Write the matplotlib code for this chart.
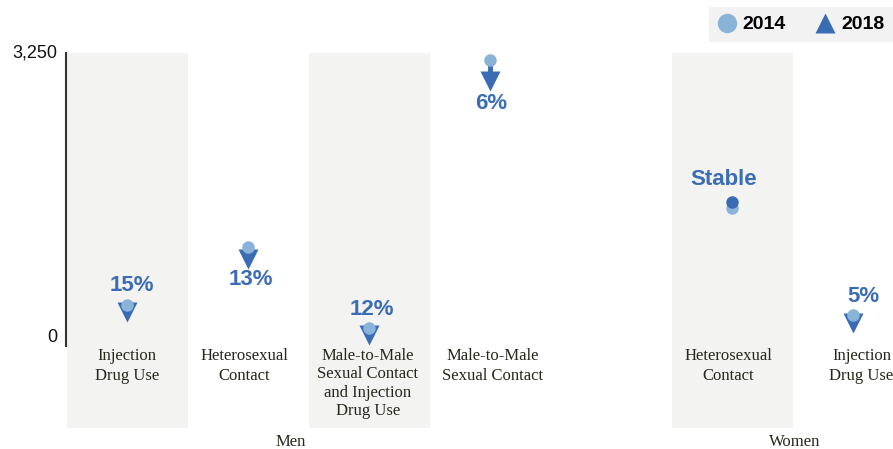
import matplotlib
matplotlib.use("Agg")
import matplotlib.pyplot as plt
from matplotlib.lines import Line2D

# ---- data ----
categories = ["Injection\nDrug Use", "Heterosexual\nContact",
              "Male-to-Male\nSexual Contact\nand Injection\nDrug Use",
              "Male-to-Male\nSexual Contact",
              "Heterosexual\nContact", "Injection\nDrug Use"]
groups = ["Men", "Women"]
x_pos = [0, 1, 2, 3, 5, 6]
values_2014 = [455, 1100, 200, 3172, 1530, 345]
values_2018 = [375, 960, 125, 2940, 1600, 255]
change_labels = ["15%", "13%", "12%", "6%", "Stable", "5%"]
stable = [False, False, False, False, True, False]
ytick_vals = [0, 3250]
ytick_labels = ["0", "3,250"]

# ---- style ----
c_light = "#8ab3da"
c_dark = "#3a6cb5"
c_text = "#3b6db6"
c_band = "#f3f3f1"
c_cat = "#26261a"

fig = plt.figure(figsize=(8.93, 4.49), dpi=100)
W, H = 893, 449
ax = fig.add_axes([66 / W, (H - 428) / H, (W - 66) / W, (428 - 53) / H])
ax.set_xlim((66 - 127) / 121, (893 - 127) / 121)
ax.set_ylim(-82 * 3250 / 293, 3250)

# shaded bands
for i in (0, 2, 4):
    ax.axvspan(x_pos[i] - 0.5, x_pos[i] + 0.5, color=c_band, zorder=0, lw=0)

for i, x in enumerate(x_pos):
    v0, v1 = values_2014[i], values_2018[i]
    if stable[i]:
        ax.plot([x], [v0], "o", ms=9, color=c_light, mec="none", zorder=3)
        ax.plot([x], [v1], "o", ms=9, color=c_dark, mec="none", zorder=4)
    else:
        ax.plot([x, x], [v0, v1], color=c_dark, lw=3.5, zorder=2, solid_capstyle="butt")
        ax.plot([x], [v1], "v", ms=14.5, color=c_dark, mec="none", zorder=3)
        ax.plot([x], [v0], "o", ms=9, color=c_light, mec="none", zorder=4)

# change labels (placed relative to markers)
label_dx = [0.04, 0.02, 0.02, 0.01, -0.07, 0.09]
label_y = [671, 738, 405, 2690, 1847, 549]
for i, x in enumerate(x_pos):
    ax.text(x + label_dx[i], label_y[i], change_labels[i], ha="center", va="center",
            fontsize=16, fontweight="bold", color=c_text, family="Liberation Sans")

# category labels
cat_dx = [0.0, -0.03, -0.01, 0.02, -0.03, 0.07]
for i, x in enumerate(x_pos):
    ls = 1.2 if categories[i].count("\n") > 2 else 1.38
    ax.text(x + cat_dx[i], -20, categories[i], ha="center", va="top",
            fontsize=12, family="Liberation Serif", color=c_cat, linespacing=ls)

# group labels
ax.text(1.35, -1070, groups[0], ha="center", va="center", fontsize=12,
        family="Liberation Serif", color=c_cat, clip_on=False)
ax.text(5.52, -1070, groups[1], ha="center", va="center", fontsize=12,
        family="Liberation Serif", color=c_cat, clip_on=False)

# axes styling
for s in ("top", "right", "bottom"):
    ax.spines[s].set_visible(False)
ax.spines["left"].set_bounds(0, 3250)
ax.spines["left"].set_color("#333333")
ax.spines["left"].set_linewidth(1.5)
ax.set_xticks([])
ax.set_yticks(ytick_vals)
ax.set_yticklabels(ytick_labels, fontsize=13, family="Liberation Sans", color="#111111")
ax.tick_params(axis="y", length=0, pad=6)
tl = ax.get_yticklabels()
tl[0].set_va("bottom")
tl[1].set_va("center")
ax.set_facecolor("none")

# legend
handles = [Line2D([], [], marker="o", ls="none", ms=14, color=c_light, mec="none"),
           Line2D([], [], marker="^", ls="none", ms=14, color=c_dark, mec="none")]
leg = fig.legend(handles, ["2014", "2018"], loc="upper right",
                 bbox_to_anchor=(1.0, (H - 7) / H), ncol=2, frameon=True,
                 fancybox=False, handlelength=0.9, handletextpad=0.35,
                 columnspacing=1.6, borderpad=0.45, borderaxespad=0,
                 prop={"family": "Liberation Sans", "weight": "bold", "size": 14})
leg.get_frame().set_facecolor("#efefef")
leg.get_frame().set_edgecolor("none")

fig.savefig("out.png", dpi=100, facecolor="white")
